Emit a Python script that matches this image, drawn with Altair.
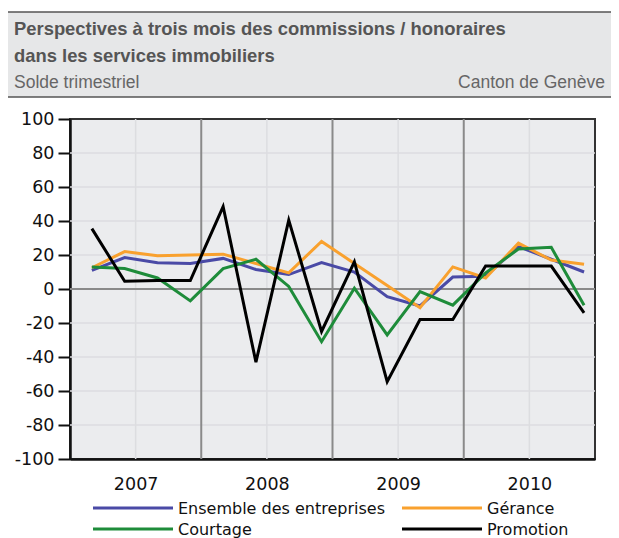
import altair as alt
import pandas as pd

# ---- data ----
years = [2007, 2008, 2009, 2010]
series_names = ["Ensemble des entreprises", "Gérance", "Courtage", "Promotion"]
series_colors = ["#4a4aa6", "#f9a12e", "#1e8c3a", "#000000"]

ensemble = [11, 18.5, 15.5, 15, 18, 11.5, 8.5, 15.5, 10, -4.5, -10, 7, 7.5, 25, 17.5, 10]
gerance = [12.5, 22, 19.5, 20, 20.5, 15, 9.5, 28, 15, 2, -11, 13, 6.5, 27, 17, 14.5]
courtage = [13, 12, 6.5, -7, 12, 17.5, 1.5, -31, 0.5, -27, -1.5, -9.5, 9.5, 23.5, 24.5, -9.5]
promotion = [35.5, 4.5, 5, 5, 48.5, -43, 40.5, -25, 16, -54.5, -18, -18, 13.5, 13.5, 13.5, -14]

y_ticks = [-100, -80, -60, -40, -20, 0, 20, 40, 60, 80, 100]
year_bounds = [2008, 2009, 2010]
year_mids = [2007.5, 2008.5, 2009.5, 2010.5]

title_lines = ["Perspectives à trois mois des commissions / honoraires",
               "dans les services immobiliers"]
subtitle_left = "Solde trimestriel"
subtitle_right = "Canton de Genève"

# ---- build table ----
rows = []
for name, vals in zip(series_names, [ensemble, gerance, courtage, promotion]):
    for i, v in enumerate(vals):
        t = years[i // 4] + (3 * (i % 4) + 2) / 12
        rows.append({"t": t, "value": v, "series": name})
df = pd.DataFrame(rows)

W, H = 525, 340
xscale = alt.Scale(domain=[2007, 2011], nice=False, zero=False)
yscale = alt.Scale(domain=[-100, 100], nice=False)
cscale = alt.Scale(domain=series_names, range=series_colors)

font = "DejaVu Sans"
hfont = "Liberation Sans"
one = pd.DataFrame({"k": [0]})

x_axis = alt.Axis(values=year_mids, labelExpr="floor(datum.value)", title=None,
                  grid=False, ticks=False, domain=True, domainColor="#111111",
                  domainWidth=2.5, labelFont=font, labelFontSize=17.5, labelColor="#111111",
                  labelPadding=16, labelOverlap=False)
y_axis = alt.Axis(values=y_ticks, title=None, grid=False, ticks=True, tickSize=12,
                  tickColor="#111111", tickWidth=2, domainColor="#111111", domainWidth=2.5,
                  labelFont=font, labelFontSize=17.5, labelColor="#111111", labelPadding=4,
                  labelOverlap=False, labelBound=False, labelFlush=False,
                  labelExpr="datum.value < 0 ? '-' + abs(datum.value) : '' + datum.value")

# header box
header_bg = alt.Chart(one).mark_rect(fill="#e6e7e8").encode(
    x=alt.value(-62), x2=alt.value(542), y=alt.value(-107), y2=alt.value(-22))
header_top = alt.Chart(one).mark_rule(color="#555555", strokeWidth=1.5).encode(
    x=alt.value(-62), x2=alt.value(542), y=alt.value(-107))
header_bot = alt.Chart(one).mark_rule(color="#555555", strokeWidth=1.5).encode(
    x=alt.value(-62), x2=alt.value(542), y=alt.value(-22))

def text_layer(txt, x, y, size, weight, color, align="left", f=hfont, baseline="alphabetic"):
    return alt.Chart(pd.DataFrame({"txt": [txt]})).mark_text(
        align=align, baseline=baseline, font=f, fontSize=size, fontWeight=weight, color=color
    ).encode(text="txt:N", x=alt.value(x), y=alt.value(y))

t1 = text_layer(title_lines[0], -56, -84, 18.4, "bold", "#555555")
t2 = text_layer(title_lines[1], -56, -57, 18.4, "bold", "#555555")
t3 = text_layer(subtitle_left, -56, -31, 17.5, "normal", "#666666")
t4 = text_layer(subtitle_right, 535, -31, 17.5, "normal", "#666666", align="right")

# grid
mid_rules = alt.Chart(pd.DataFrame({"t": year_mids})).mark_rule(
    color="#dcdde0", strokeWidth=1.5
).encode(x=alt.X("t:Q", scale=xscale, axis=x_axis))
ygrid = alt.Chart(pd.DataFrame({"value": [v for v in y_ticks if v not in (-100, 0, 100)]})).mark_rule(
    color="#dcdde0", strokeWidth=1.5
).encode(y=alt.Y("value:Q", scale=yscale, axis=y_axis))
zero_rule = alt.Chart(pd.DataFrame({"value": [0]})).mark_rule(
    color="#8a8a8a", strokeWidth=2
).encode(y=alt.Y("value:Q", scale=yscale, axis=y_axis))
bound_rules = alt.Chart(pd.DataFrame({"t": year_bounds})).mark_rule(
    color="#8a8a8a", strokeWidth=2
).encode(x=alt.X("t:Q", scale=xscale, axis=x_axis))

lines = alt.Chart(df).mark_line(strokeWidth=3).encode(
    x=alt.X("t:Q", scale=xscale, axis=x_axis),
    y=alt.Y("value:Q", scale=yscale, axis=y_axis),
    color=alt.Color("series:N", scale=cscale, sort=series_names, legend=None),
    order=alt.Order("t:Q"),
)

# legend (2 columns x 2 rows), placed below the plot
leg_col_x = [23, 332]
leg_row_y = [389, 410]
leg_sym_len = 80
legend_layers = []
for k, (name, col) in enumerate(zip(series_names, series_colors)):
    cx = leg_col_x[k % 2]
    cy = leg_row_y[k // 2]
    legend_layers.append(
        alt.Chart(one).mark_rule(strokeWidth=3, color=col).encode(
            x=alt.value(cx), x2=alt.value(cx + leg_sym_len), y=alt.value(cy)))
    legend_layers.append(text_layer(name, cx + leg_sym_len + 5, cy + 1, 16, "normal", "#111111",
                                    f=font, baseline="middle"))

chart = alt.layer(
    header_bg, header_top, header_bot, t1, t2, t3, t4,
    mid_rules, ygrid, zero_rule, bound_rules, lines, *legend_layers
).properties(
    width=W, height=H,
    autosize=alt.AutoSizeParams(type="none"),
    padding={"left": 62, "top": 111, "right": 16, "bottom": 79},
).configure_view(
    fill="#ebecee", stroke="#333333", strokeWidth=2
)

chart.save("out.html", embed_options={"renderer": "svg", "actions": False})
